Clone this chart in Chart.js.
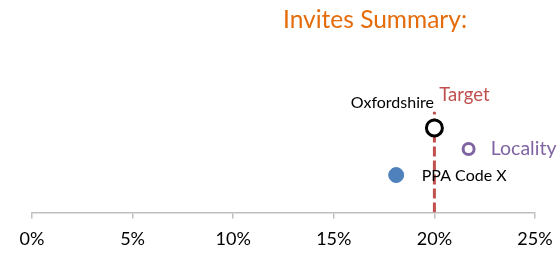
<!DOCTYPE html>
<html>
<head>
<meta charset="utf-8">
<script src="https://cdn.jsdelivr.net/npm/chart.js@4/dist/chart.umd.min.js"></script>
<style>
  html, body { margin: 0; padding: 0; background: #fff; }
  #wrap { position: relative; width: 557px; height: 254px; }
  #title { position: absolute; left: 283px; top: 4px; font-family: Lato, sans-serif; font-size: 24.5px; color: #E46C0A; white-space: nowrap; }
  canvas { position: absolute; left: 0; top: 0; }
</style>
</head>
<body>
<div id="wrap">
  <canvas id="chart" width="557" height="254"></canvas>
  <div id="title">Invites Summary:</div>
</div>
<script>
// data
const seriesNames = ['Oxfordshire', 'Locality', 'PPA Code X'];
const xValues = [20.0, 21.7, 18.1];   // percent
const yValues = [0.52, 0.39, 0.23];   // vertical placement only (hidden axis)
const targetValue = 20;
const targetTop = 0.62;
const tickValues = [0, 5, 10, 15, 20, 25];

const pointStyles = [
  { bg: '#ffffff', border: '#000000', radius: 8, width: 3, label: '#000000', font: 16, dx: -42, dy: -25 },
  { bg: '#ffffff', border: '#8064A2', radius: 5.5, width: 3, label: '#8064A2', font: 19.5, dx: 55, dy: 0 },
  { bg: '#4F81BD', border: '#4F81BD', radius: 7.5, width: 1, label: '#000000', font: 16, dx: 68, dy: 1 }
];

const datasets = seriesNames.map((name, i) => ({
  type: 'scatter',
  label: name,
  data: [{ x: xValues[i], y: yValues[i] }],
  backgroundColor: pointStyles[i].bg,
  borderColor: pointStyles[i].border,
  borderWidth: pointStyles[i].width,
  pointRadius: pointStyles[i].radius,
  order: 0
}));

datasets.push({
  type: 'line',
  label: 'Target',
  data: [{ x: targetValue, y: 0 }, { x: targetValue, y: targetTop }],
  borderColor: '#C0504D',
  borderWidth: 3,
  borderDash: [10, 4],
  pointRadius: 0,
  order: 1
});

// draw point labels next to the markers
const labelPlugin = {
  id: 'pointLabels',
  afterDatasetsDraw(chart) {
    const ctx = chart.ctx;
    ctx.save();
    ctx.textAlign = 'center';
    ctx.textBaseline = 'middle';
    seriesNames.forEach((name, i) => {
      const pt = chart.getDatasetMeta(i).data[0];
      const s = pointStyles[i];
      ctx.font = s.font + 'px Lato, sans-serif';
      ctx.fillStyle = s.label;
      ctx.fillText(name, pt.x + s.dx, pt.y + s.dy);
    });
    const tMeta = chart.getDatasetMeta(seriesNames.length);
    const top = tMeta.data[1];
    ctx.font = '18.5px Lato, sans-serif';
    ctx.fillStyle = '#C0504D';
    ctx.fillText('Target', top.x + 30, top.y - 17);
    ctx.restore();
  }
};

new Chart(document.getElementById('chart'), {
  data: { datasets: datasets },
  options: {
    responsive: false,
    animation: false,
    layout: { padding: { top: 50, left: 32, right: 22, bottom: -6 } },
    plugins: { legend: { display: false }, tooltip: { enabled: false } },
    scales: {
      x: {
        type: 'linear',
        min: 0, max: 25,
        afterBuildTicks: axis => { axis.ticks = tickValues.map(v => ({ value: v })); },
        afterFit: axis => { axis.paddingLeft = 0; axis.paddingRight = 0; },
        grid: { drawOnChartArea: false, drawTicks: true, tickLength: 6, color: '#bfbfbf', lineWidth: 1.5 },
        border: { display: true, color: '#bfbfbf', width: 1.5 },
        ticks: {
          color: '#000',
          font: { family: 'Lato', size: 18 },
          padding: 10,
          maxRotation: 0,
          callback: v => v + '%'
        }
      },
      y: { display: false, min: 0, max: 1 }
    }
  },
  plugins: [labelPlugin]
});
</script>
</body>
</html>
